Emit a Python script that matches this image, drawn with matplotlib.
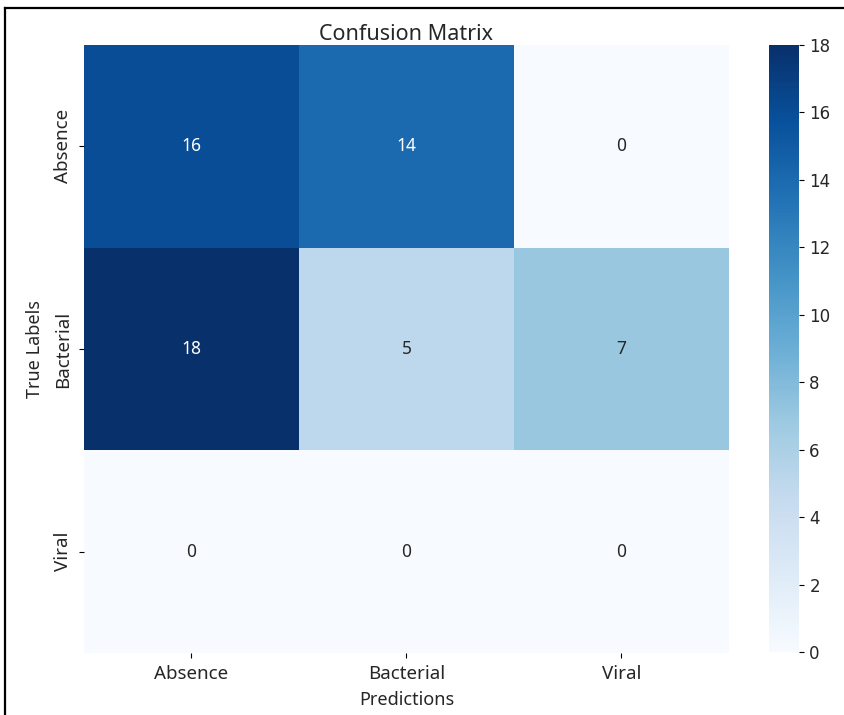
import matplotlib
matplotlib.use("Agg")
import matplotlib.pyplot as plt
from matplotlib.lines import Line2D
import seaborn as sns
import numpy as np

classes = ["Absence", "Bacterial", "Viral"]
row_absence = [16, 14, 0]
row_bacterial = [18, 5, 7]
row_viral = [0, 0, 0]
colorbar_ticks = [0, 2, 4, 6, 8, 10, 12, 14, 16, 18]

cm = np.array([row_absence, row_bacterial, row_viral])

fig = plt.figure(figsize=(8.45, 7.15), dpi=100)
ax = fig.add_axes([0.0994, 0.0867, 0.7633, 0.8503])
cax = fig.add_axes([0.910, 0.0881, 0.0355, 0.8489])

label_font = ["Noto Sans", "DejaVu Sans"]
text_color = "#262626"

sns.heatmap(cm, annot=True, fmt="d", cmap="Blues", ax=ax, cbar_ax=cax,
            xticklabels=classes, yticklabels=classes,
            annot_kws={"fontsize": 12.5, "family": label_font})

ax.set_title("Confusion Matrix", fontsize=15.5, family=label_font, pad=3,
             color=text_color)
ax.set_xlabel("Predictions", fontsize=13, family=label_font, labelpad=6,
              color=text_color)
ax.set_ylabel("True Labels", fontsize=13, family=label_font, labelpad=7,
              color=text_color)
for lab in ax.get_xticklabels():
    lab.set_family(label_font)
    lab.set_fontsize(13.5)
    lab.set_color(text_color)
for lab in ax.get_yticklabels():
    lab.set_family(label_font)
    lab.set_fontsize(13.5)
    lab.set_color(text_color)
    lab.set_verticalalignment("center")
ax.tick_params(axis="x", pad=5)
ax.tick_params(axis="y", pad=5)

cax.set_yticks(colorbar_ticks)
cax.tick_params(labelsize=12, labelcolor=text_color, pad=4)

# screenshot frame along the top and left edges
fig.add_artist(Line2D([0.006, 1.0], [0.989, 0.989], transform=fig.transFigure,
                      color="black", lw=1.6))
fig.add_artist(Line2D([0.006, 0.006], [0.0, 0.989], transform=fig.transFigure,
                      color="black", lw=1.6))

fig.savefig("out.png", dpi=100)
